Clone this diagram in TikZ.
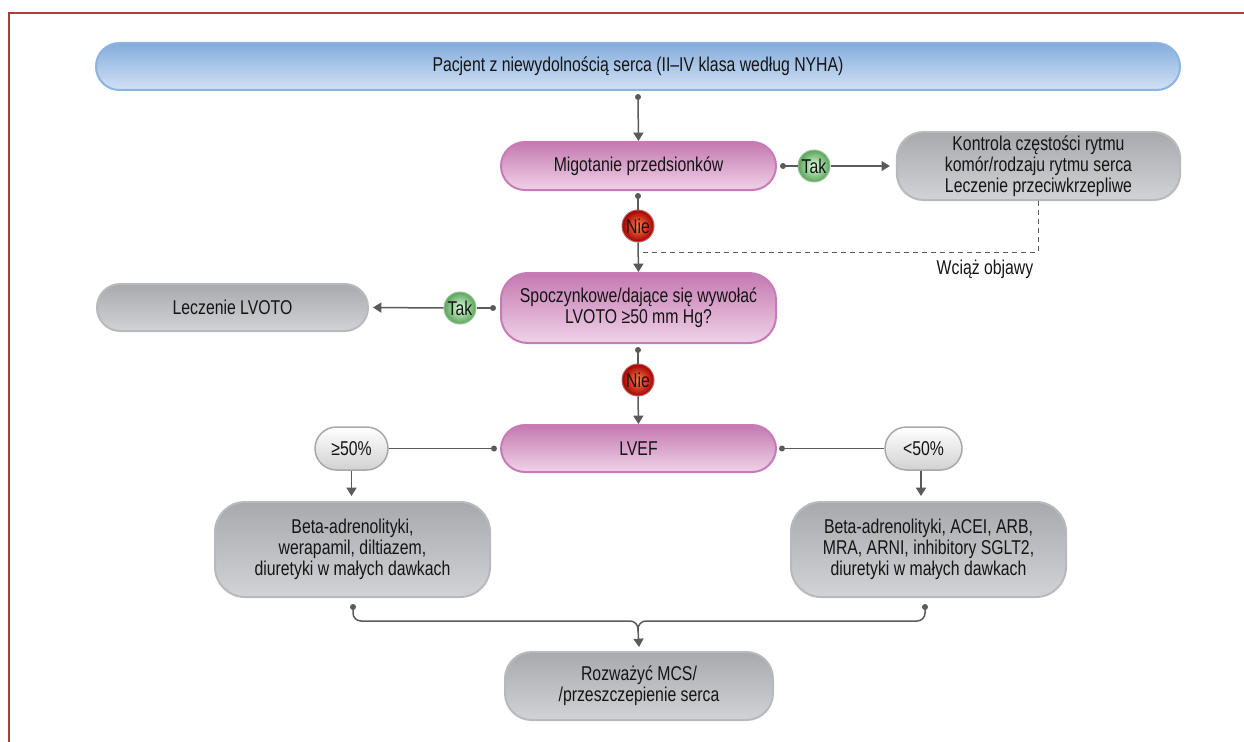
\documentclass[tikz,border=0pt]{standalone}
\usepackage{fontspec}
\setmainfont{Liberation Sans}[FakeStretch=0.79]
\usetikzlibrary{arrows.meta,shadings}
\definecolor{frame}{HTML}{B03C3C}
\definecolor{blueTop}{HTML}{84ACDC}
\definecolor{blueBot}{HTML}{D2E2F4}
\definecolor{blueLine}{HTML}{8CB4E0}
\definecolor{pinkTop}{HTML}{C479B0}
\definecolor{pinkBot}{HTML}{F0D2E8}
\definecolor{pinkLine}{HTML}{C77AB7}
\definecolor{greyTop}{HTML}{A8A9AC}
\definecolor{greyBot}{HTML}{D2D3D6}
\definecolor{greyLine}{HTML}{B8B9BC}
\definecolor{pillLine}{HTML}{A8A8A8}
\definecolor{conn}{HTML}{5A5A5A}
\definecolor{ink}{HTML}{151515}
\tikzset{
  txt/.style={text=ink, font=\fontsize{12pt}{12.6pt}\selectfont},
  box/.style={txt, draw, line width=1.2pt, inner sep=0pt, align=center},
  bluebar/.style={box, draw=blueLine, top color=blueTop, bottom color=blueBot,
    minimum width=650.4pt, minimum height=28.2pt, rounded corners=14pt},
  pinkbox/.style={box, draw=pinkLine, top color=pinkTop, bottom color=pinkBot,
    minimum width=165pt, rounded corners=14.4pt},
  greybox/.style={box, draw=greyLine, top color=greyTop, bottom color=greyBot,
    rounded corners=16pt},
  pill/.style={box, draw=pillLine, top color=white, bottom color=black!18,
    minimum height=25.8pt, rounded corners=12.9pt, line width=0.9pt},
  yesball/.style={txt, circle, draw=green!40!black!40, line width=0.6pt, inner sep=0pt,
    minimum size=19.2pt, inner color=green!12, outer color=green!45!black!65!white},
  noball/.style={txt, circle, draw=red!50!black!60, line width=0.6pt, inner sep=0pt,
    minimum size=19.2pt, inner color=red!45!orange!70, outer color=red!65!black},
  link/.style={draw=conn, line width=0.9pt},
  arr/.style={link, -{Triangle[width=6pt,length=5pt]}},
  dot/.style={circle, fill=conn, inner sep=0pt, minimum size=3.6pt}
}
\begin{document}
\begin{tikzpicture}[x=0.6pt,y=-0.6pt]
\useasboundingbox (0,0) rectangle (1244,742);
% outer frame (top and left rules)
\draw[frame, line width=1.5pt] (9,742) -- (9,13) -- (1244,13);

% main column
\node[bluebar] (start) at (638,66.5) {Pacjent z niewydolnością serca (II–IV klasa według NYHA)};
\node[pinkbox, minimum height=28.8pt] (af) at (638.5,166) {Migotanie przedsionków};
\node[pinkbox, minimum height=42pt, rounded corners=16pt] (lvoto) at (638.5,308)
  {Spoczynkowe/dające się wywołać\\LVOTO ≥50 mm Hg?};
\node[pinkbox, minimum height=28.2pt] (lvef) at (638.5,448.5) {LVEF};

% right / left branches
\node[greybox, minimum width=170pt, minimum height=40.8pt] (rate) at (1038.5,166)
  {Kontrola częstości rytmu\\komór/rodzaju rytmu serca\\Leczenie przeciwkrzepliwe};
\node[greybox, minimum width=162.6pt, minimum height=28.2pt, rounded corners=14pt] (treat) at (232.5,307.5)
  {Leczenie LVOTO};
\node[pill, minimum width=43.8pt] (ge) at (351.5,448.5) {≥50\%};
\node[pill, minimum width=46.2pt] (lt) at (923.5,448.5) {<50\%};
\node[greybox, minimum width=165pt, minimum height=57pt, rounded corners=18pt] (drugL) at (352.5,549.5)
  {Beta-adrenolityki,\\werapamil, diltiazem,\\diuretyki w małych dawkach};
\node[greybox, minimum width=165pt, minimum height=57pt, rounded corners=18pt] (drugR) at (928.5,549.5)
  {Beta-adrenolityki, ACEI, ARB,\\MRA, ARNI, inhibitory SGLT2,\\diuretyki w małych dawkach};
\node[greybox, minimum width=160.8pt, minimum height=40.8pt] (mcs) at (639,686)
  {Rozważyć MCS/\\/przeszczepienie serca};

% answer badges
\node[noball] (no1) at (638,226) {Nie};
\node[noball] (no2) at (638,380) {Nie};
\node[yesball] (yes1) at (814,166) {Tak};
\node[yesball] (yes2) at (460,308) {Tak};

% anchor points of the connectors
\coordinate (s0) at (638,97);
\coordinate (s1) at (638,196);
\coordinate (s2) at (638,350);
\coordinate (s3) at (783,166);
\coordinate (s4) at (493,308);
\coordinate (s5) at (494,448.5);
\coordinate (s6) at (782,448.5);
\coordinate (bl) at (353,607);
\coordinate (br) at (925,607);
\coordinate (join) at (638,621);
\coordinate (bend) at (1038,252);
\node[dot] at (s0) {}; \node[dot] at (s1) {}; \node[dot] at (s2) {};
\node[dot] at (s3) {}; \node[dot] at (s4) {}; \node[dot] at (s5) {};
\node[dot] at (s6) {}; \node[dot] at (bl) {}; \node[dot] at (br) {};

% connectors
\draw[arr] (s0) -- (af.north);
\draw[link] (s1) -- (no1.north);
\draw[arr] (no1.south) -- (lvoto.north);
\draw[link] (s3) -- (yes1.west);
\draw[arr] (yes1.east) -- ([xshift=-3.6pt]rate.west);
\draw[link] (s4) -- (yes2.east);
\draw[arr] (yes2.west) -- ([xshift=2.4pt]treat.east);
\draw[link] (s2) -- (no2.north);
\draw[arr] (no2.south) -- (lvef.north);
\draw[link] (s5) -- (ge.east);
\draw[link] (s6) -- (lt.west);
\draw[arr] (ge.south) -- ([yshift=3pt]ge.south |- drugL.north);
\draw[arr] ([xshift=-1.5pt]lt.south) -- ([xshift=-1.5pt,yshift=3pt]lt.south |- drugR.north);
\draw[link, rounded corners=4.8pt] (bl) -- (bl |- join) -- (join) -- ([yshift=-6pt]join);
\draw[link, rounded corners=4.8pt] (br) -- (br |- join) -- (join) -- ([yshift=-6pt]join);
\draw[arr] ([yshift=-5pt]join) -- ([yshift=2.4pt]mcs.north);

% persisting symptoms loop
\draw[draw=conn, line width=0.6pt, dash pattern=on 3pt off 2.4pt]
  (rate.south -| bend) -- (bend) -- (bend -| no1.south);
\node[txt] (still) at (985,269) {Wciąż objawy};
\end{tikzpicture}
\end{document}
